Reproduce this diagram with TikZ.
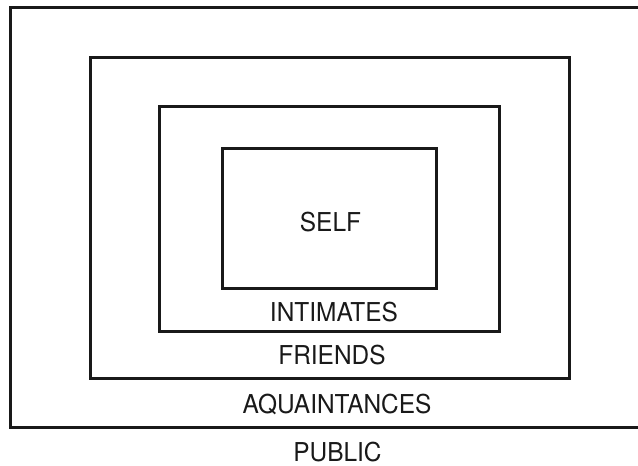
\documentclass[tikz,border=0pt]{standalone}
\usepackage{fontspec}
\setmainfont[FakeStretch=0.94]{TeX Gyre Heros}
\begin{document}
\begin{tikzpicture}[x=1pt,y=-1pt,
  ring/.style={draw=black!90, line width=3pt, inner sep=0pt, rectangle},
  lbl/.style={anchor=base, inner sep=0pt, font=\fontsize{26}{30}\selectfont, text=black!90}]
\clip (0,0) rectangle (638,466);
\node[ring, minimum width=640pt, minimum height=420pt] (public) at (330.5,217) {};
\node[ring, minimum width=479pt, minimum height=321pt] (aqu) at (329.5,217.5) {};
\node[ring, minimum width=340pt, minimum height=225pt] (fri) at (329,218.5) {};
\node[ring, minimum width=214pt, minimum height=140pt] (int) at (329,218) {};
\node[lbl] (self) at (330.5,231) {SELF};
\node[lbl] (tint) at (334,321) {INTIMATES};
\node[lbl] (tfri) at (332,364) {FRIENDS};
\node[lbl] (taqu) at (337,413) {AQUAINTANCES};
\node[lbl] (tpub) at (337.5,461) {PUBLIC};
\end{tikzpicture}
\end{document}
